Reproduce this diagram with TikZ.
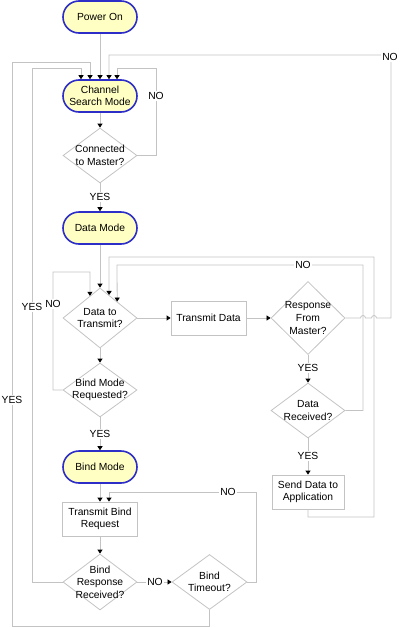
\documentclass[tikz,border=0pt]{standalone}
\usepackage{fontspec}
\setmainfont{Liberation Sans}
\usetikzlibrary{shapes.geometric,arrows.meta,calc}
\definecolor{linegray}{RGB}{195,195,195}
\definecolor{termfill}{RGB}{255,255,196}
\definecolor{termdraw}{RGB}{45,45,200}
\tikzset{
  base/.style={font=\fontsize{10.3}{12.6}\selectfont, align=center, text=black},
  term/.style={base, draw=termdraw, fill=termfill, line width=1.6pt, rounded corners=16pt, minimum width=74pt, minimum height=32pt, inner sep=0pt},
  proc/.style={base, draw=linegray, line width=0.8pt, minimum width=75pt, minimum height=34pt, inner sep=0pt},
  dec/.style={diamond, draw=linegray, line width=0.8pt, inner sep=0pt, minimum width=74pt, minimum height=55pt},
  dtext/.style={base},
  conn/.style={draw=linegray, line width=0.8pt, -{Triangle[length=4pt,width=5pt,color=black]}},
  lbl/.style={base, fill=white, inner sep=1pt},
}
\begin{document}
\begin{tikzpicture}[x=1pt,y=-1pt]
\useasboundingbox (0,0) rectangle (400,627);
% nodes
\node[term] (pw) at (100,17) {Power On};
\node[term] (csm) at (100,96) {Channel\\Search Mode};
\node[dec, label={[dtext]center:{Connected\\to Master?}}] (d1) at (100,155.5) {};
\node[term] (dm) at (100,228) {Data Mode};
\node[dec, minimum height=60pt, label={[dtext]center:{Data to\\Transmit?}}] (dt) at (100,318) {};
\node[proc] (td) at (208.5,318) {Transmit Data};
\node[dec, minimum height=73pt, label={[dtext]center:{Response\\From\\Master?}}] (rm) at (308,318) {};
\node[dec, label={[dtext]center:{Data\\Received?}}] (dr) at (308,410.5) {};
\node[proc, minimum width=72pt] (sd) at (308,492) {Send Data to\\Application};
\node[dec, minimum height=54pt, label={[dtext]center:{Bind Mode\\Requested?}}] (bmr) at (100,390) {};
\node[term] (bm) at (100,467) {Bind Mode};
\node[proc] (tbr) at (100,519) {Transmit Bind\\Request};
\node[dec, minimum height=56pt, label={[dtext]center:{Bind\\Response\\Received?}}] (brr) at (100,582) {};
\node[dec, minimum width=75pt, label={[dtext]center:{Bind\\Timeout?}}] (bt) at (209.5,582) {};
% connectors
\draw[conn] (pw) -- (csm);
\draw[conn] (csm) -- (d1);
\draw[conn] (d1.east) -- (156,155.5) -- (156,68) -- (117,68) -- ($(csm.north)+(17,0)$);
\node[lbl] (no1) at (156,96) {NO};
\draw[conn] (d1) -- (dm);
\node[lbl] (yes1) at (100,197) {YES};
\draw[conn] (dm) -- (dt);
\draw[conn] (dt) -- (td);
\draw[conn] (td) -- (rm);
\draw[conn] (rm) -- (dr);
\node[lbl] (yes2) at (308,368) {YES};
\draw[conn] (dr) -- (sd);
\node[lbl] (yes3) at (308,456) {YES};
\draw[conn] (sd.south) -- (308,517) -- (374,517) -- (374,257) -- (109,257) -- ($(dt.north)!0.243!(dt.east)$);
\draw[conn] (dr.east) -- (363,410.5) -- (363,265) -- (117,265) -- ($(dt.north)!0.46!(dt.east)$);
\node[lbl] (no2) at (303,265) {NO};
\draw[conn] (rm.east) -- (360.5,318) arc[start angle=180,end angle=360,radius=2.5]
  -- (371.5,318) arc[start angle=180,end angle=360,radius=2.5]
  -- (391,318) -- (391,55) -- (109,55) -- ($(csm.north)+(9,0)$);
\node[lbl] (no3) at (390,57) {NO};
\draw[conn] (dt) -- (bmr);
\draw[conn] (bmr.west) -- (53,390) -- (53,272) -- (90,272) -- ($(dt.north)!0.27!(dt.west)$);
\node[lbl] (no4) at (53,304) {NO};
\draw[conn] (bmr) -- (bm);
\node[lbl] (yes4) at (100,434) {YES};
\draw[conn] (bm) -- (tbr);
\draw[conn] (tbr) -- (brr);
\draw[conn] (brr) -- (bt);
\node[lbl] (no5) at (155,582) {NO};
\draw[conn] (bt.east) -- (256,582) -- (256,492) -- (109,492) -- ($(tbr.north)+(9,0)$);
\node[lbl] (no6) at (228,492) {NO};
\draw[conn] (bt.south) -- (209.5,626) -- (12,626) -- (12,62) -- (90,62) -- ($(csm.north)+(-10,0)$);
\node[lbl] (yes5) at (12,400) {YES};
\draw[conn] (brr.west) -- (32,582) -- (32,68) -- (81,68) -- ($(csm.north)+(-19,0)$);
\node[lbl] (yes6) at (32,307) {YES};
\end{tikzpicture}
\end{document}
